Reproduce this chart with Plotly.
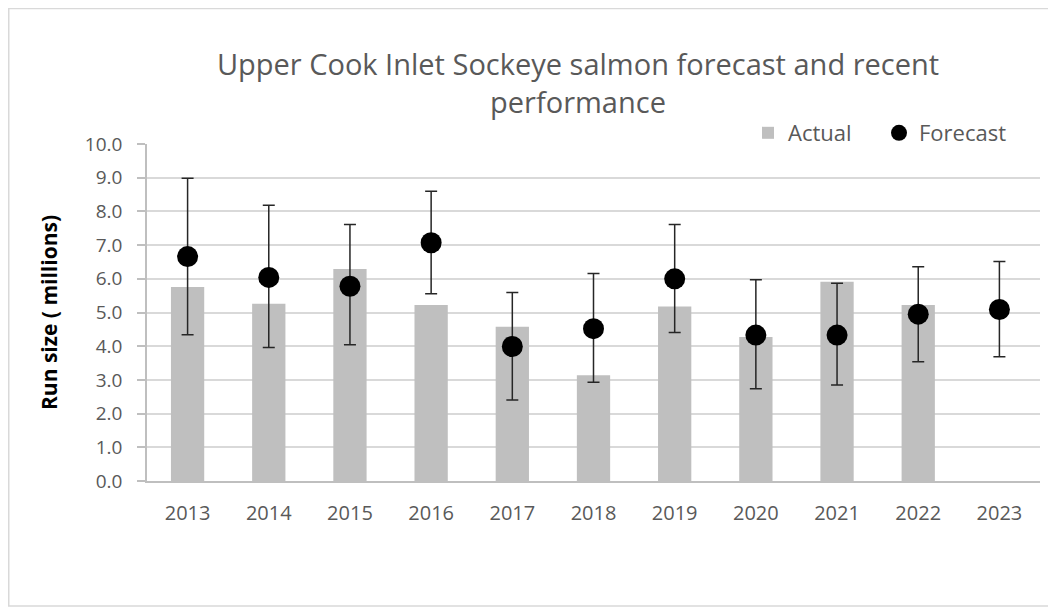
import plotly.graph_objects as go

years = ["2013", "2014", "2015", "2016", "2017", "2018", "2019", "2020", "2021", "2022", "2023"]
actual = [5.76, 5.26, 6.29, 5.22, 4.58, 3.14, 5.18, 4.27, 5.91, 5.22, None]
forecast = [6.66, 6.04, 5.78, 7.07, 3.99, 4.52, 6.00, 4.33, 4.33, 4.95, 5.09]
upper = [8.98, 8.18, 7.61, 8.60, 5.59, 6.16, 7.61, 5.97, 5.87, 6.36, 6.51]
lower = [4.34, 3.96, 4.04, 5.56, 2.40, 2.93, 4.41, 2.74, 2.85, 3.54, 3.69]
y_ticks = [0, 1, 2, 3, 4, 5, 6, 7, 8, 9, 10]

err_plus = [u - f for u, f in zip(upper, forecast)]
err_minus = [f - l for f, l in zip(forecast, lower)]

FONT = "Open Sans"
# page has an 8px body margin; figure is sized/positioned to compensate
W, H = 1048, 599
ML, MR, MT, MB = 139, 16, 136, 126
PW, PH = W - ML - MR, H - MT - MB

fig = go.Figure()
fig.add_trace(go.Bar(
    x=years, y=actual, name="Actual",
    marker=dict(color="#bfbfbf", line=dict(width=0)),
    width=0.41,
))
fig.add_trace(go.Scatter(
    x=years, y=forecast, name="Forecast", mode="markers",
    marker=dict(color="#000000", size=21, symbol="circle"),
    error_y=dict(type="data", symmetric=False, array=err_plus, arrayminus=err_minus,
                 color="#262626", thickness=1.5, width=6),
))

fig.update_layout(
    width=W, height=H,
    paper_bgcolor="white", plot_bgcolor="white",
    margin=dict(l=ML, r=MR, t=MT, b=MB, autoexpand=False),
    font=dict(family=FONT, color="#595959", size=19),
    title=dict(
        text="Upper Cook Inlet Sockeye salmon forecast and recent<br>performance",
        x=570/W, xanchor="center", xref="container",
        y=1-67/H, yanchor="middle", yref="container",
        font=dict(family=FONT, size=29, color="#595959"),
    ),
    showlegend=True,
    legend=dict(orientation="h", x=(740-ML)/PW, xanchor="left", y=(MT+PH-125)/PH, yanchor="middle",
                font=dict(family=FONT, size=22, color="#595959"),
                bgcolor="rgba(0,0,0,0)", itemsizing="trace", traceorder="normal",
                entrywidth=86),
)
fig.update_yaxes(
    range=[0, 10], tickvals=y_ticks, tickformat=".1f",
    showgrid=True, gridcolor="#d9d9d9", gridwidth=1.5,
    showline=True, linecolor="#bfbfbf", linewidth=1.5,
    ticks="outside", ticklen=8, tickcolor="#bfbfbf", tickwidth=1.5,
    ticklabelstandoff=11,
    zeroline=False,
    title=dict(text="<b>Run size ( millions)</b>", font=dict(family=FONT, size=21, color="#000000"), standoff=22),
)
fig.update_xaxes(
    type="category", range=[-0.5, 10.5], showgrid=False,
    showline=True, linecolor="#bfbfbf", linewidth=2,
    ticks="", ticklabelstandoff=13,
    tickfont=dict(size=20),
)
fig.add_shape(type="rect", xref="paper", yref="paper",
              x0=(0.75-ML)/PW, x1=1.05, y0=(MT+PH-598)/PH, y1=(MT+PH-0.5)/PH,
              line=dict(color="#d9d9d9", width=1.5), fillcolor="rgba(0,0,0,0)", layer="below")

fig.write_html("out.html")
